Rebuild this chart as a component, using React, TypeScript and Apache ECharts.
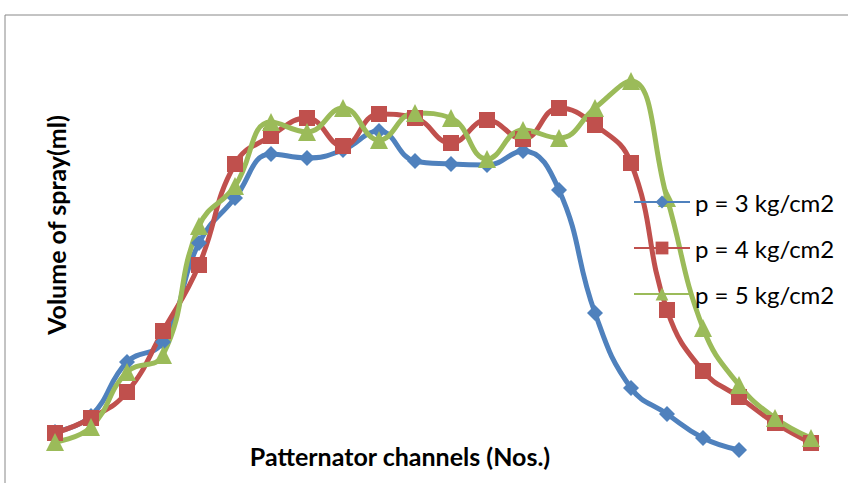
import React, { useEffect, useRef } from "react";
import * as echarts from "echarts";

const channels = Array.from({ length: 22 }, (_, i) => String(i + 1));
const p3 = [3.8, 5.4, 10.8, 12.8, 22.7, 27.2, 31.6, 31.2, 32.0, 33.9, 30.9, 30.6, 30.5, 31.9, 28.0, 15.7, 8.2, 5.6, 3.2, 2.0];
const p4 = [3.7, 5.2, 7.8, 13.9, 20.5, 30.6, 33.4, 35.2, 32.4, 35.6, 35.2, 32.7, 35.0, 33.1, 36.2, 34.5, 30.7, 16.0, 9.9, 7.3, 4.7, 2.7];
const p5 = [2.8, 4.3, 9.8, 11.5, 24.4, 28.4, 34.8, 33.8, 36.2, 33.0, 35.7, 35.2, 31.1, 34.0, 33.2, 36.2, 38.9, 27.2, 14.2, 8.5, 5.2, 3.2];
const seriesNames = ["p = 3 kg/cm2", "p = 4 kg/cm2", "p = 5 kg/cm2"];
const xTitle = "Patternator channels (Nos.)";
const yTitle = "Volume of spray(ml)";

export default function App() {
  const ref = useRef<HTMLDivElement>(null);
  useEffect(() => {
    document.body.style.margin = "0";
    const chart = echarts.init(ref.current!, null, { renderer: "svg" });
    const font = "Lato, 'Open Sans', sans-serif";
    const mk = (name: string, data: number[], color: string, symbol: string, size: number) => ({
      name,
      type: "line",
      data,
      smooth: 0.45,
      symbol,
      symbolSize: size,
      showAllSymbol: true,
      lineStyle: { color, width: 5 },
      itemStyle: { color },
    });
    chart.setOption({
      animation: false,
      backgroundColor: "#fff",
      grid: { left: 37, right: 19, top: 30, bottom: 13 },
      xAxis: {
        type: "category",
        data: channels,
        boundaryGap: true,
        axisLine: { show: false },
        axisTick: { show: false },
        axisLabel: { show: false },
      },
      yAxis: {
        type: "value",
        min: 0,
        max: 44,
        axisLine: { show: false },
        axisTick: { show: false },
        axisLabel: { show: false },
        splitLine: { show: false },
      },
      legend: {
        orient: "vertical",
        left: 633,
        top: 190,
        padding: 0,
        itemWidth: 56,
        itemHeight: 16,
        itemGap: 22,
        textStyle: { fontFamily: font, fontSize: 24, color: "#000" },
        data: seriesNames,
      },
      graphic: [
        {
          type: "rect",
          shape: { x: 5, y: 15, width: 900, height: 500 },
          style: { fill: "none", stroke: "#888", lineWidth: 1 },
          silent: true,
        },
        {
          type: "text",
          x: 400,
          y: 456,
          style: {
            text: xTitle,
            fontFamily: font,
            fontWeight: "bold",
            fontSize: 25,
            fill: "#000",
            align: "center",
            verticalAlign: "middle",
          },
        },
        {
          type: "text",
          x: 56,
          y: 225,
          rotation: Math.PI / 2,
          style: {
            text: yTitle,
            fontFamily: font,
            fontWeight: "bold",
            fontSize: 25,
            fill: "#000",
            align: "center",
            verticalAlign: "middle",
          },
        },
      ],
      series: [
        mk(seriesNames[0], p3, "#4F81BD", "diamond", 16),
        mk(seriesNames[1], p4, "#C0504D", "rect", 16),
        mk(seriesNames[2], p5, "#9BBB59", "triangle", 18),
      ],
    });
    return () => chart.dispose();
  }, []);
  return <div ref={ref} style={{ width: 848, height: 483 }} />;
}
